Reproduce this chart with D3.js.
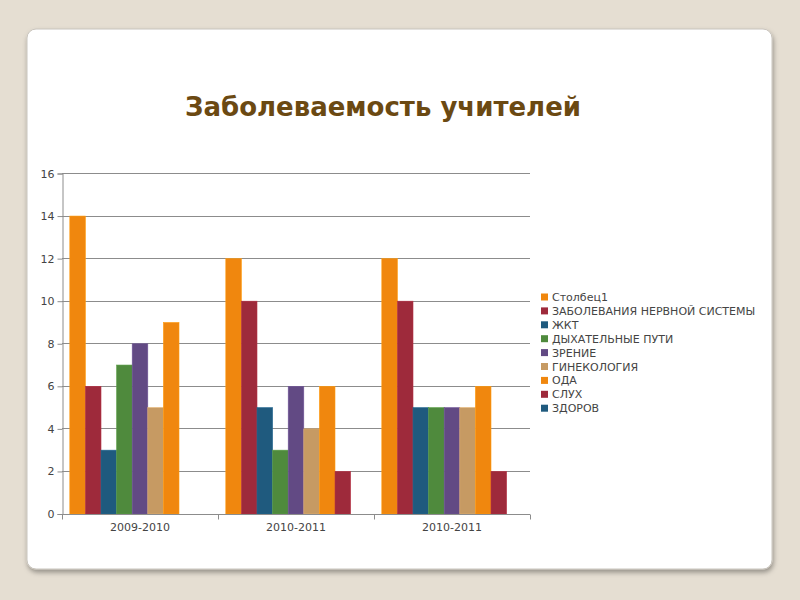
<!DOCTYPE html>
<html><head><meta charset="utf-8">
<script src="https://cdn.jsdelivr.net/npm/d3@7/dist/d3.min.js"></script>
<style>body{margin:0;background:#e5ded2;}svg{display:block;}</style>
</head><body>
<svg id="c" width="800" height="600"></svg>
<script>
const categories = ["2009-2010", "2010-2011", "2010-2011"];
const seriesNames = ["Столбец1", "ЗАБОЛЕВАНИЯ НЕРВНОЙ СИСТЕМЫ", "ЖКТ", "ДЫХАТЕЛЬНЫЕ ПУТИ", "ЗРЕНИЕ", "ГИНЕКОЛОГИЯ", "ОДА", "СЛУХ", "ЗДОРОВ"];
const seriesColors = ["#f0870e", "#9e2a3b", "#1f5a7e", "#4f8a3d", "#624a84", "#c69a63", "#f0870e", "#9e2a3b", "#1f5a7e"];
const values = [
  [14, 6, 3, 7, 8, 5, 9, 0, 0],
  [12, 10, 5, 3, 6, 4, 6, 2, 0],
  [12, 10, 5, 5, 5, 5, 6, 2, 0]
];
const yTicks = [0, 2, 4, 6, 8, 10, 12, 14, 16];

const svg = d3.select("#c");
const defs = svg.append("defs");
const f = defs.append("filter").attr("id","sh").attr("x","-5%").attr("y","-5%").attr("width","110%").attr("height","112%");
f.append("feDropShadow").attr("dx",1).attr("dy",3).attr("stdDeviation",2.5).attr("flood-color","#000").attr("flood-opacity",0.35);

svg.append("rect").attr("x",27).attr("y",29).attr("width",745).attr("height",540).attr("rx",9)
  .attr("fill","#fff").attr("stroke","#c8c4bd").attr("stroke-width",1).attr("filter","url(#sh)");

svg.append("text").attr("x",383).attr("y",116).attr("text-anchor","middle")
  .attr("font-family","DejaVu Sans").attr("font-weight","bold").attr("font-size",26)
  .attr("fill","#6b4912").text("Заболеваемость учителей");

const x0 = d3.scaleBand().domain(d3.range(categories.length)).range([62, 530]).padding(0);
const x1 = d3.scaleBand().domain(d3.range(seriesNames.length)).range([0, x0.bandwidth()]).paddingInner(0).paddingOuter(0.5);
const y = d3.scaleLinear().domain([0, 16]).range([514, 173.5]);

const g = svg.append("g");
g.selectAll("line.grid").data(yTicks.filter(t=>t>0)).join("line")
  .attr("x1",62).attr("x2",530).attr("y1",d=>y(d)).attr("y2",d=>y(d))
  .attr("stroke","#8c8c8c").attr("stroke-width",1).attr("shape-rendering","crispEdges");

const groups = g.selectAll("g.cat").data(values).join("g").attr("transform",(d,i)=>`translate(${x0(i)},0)`);
groups.selectAll("rect").data(d=>d.map((v,j)=>({v,j}))).join("rect")
  .filter(d=>d.v>0)
  .attr("x",d=>x1(d.j)).attr("width",x1.bandwidth())
  .attr("y",d=>y(d.v)).attr("height",d=>y(0)-y(d.v))
  .attr("fill",d=>seriesColors[d.j])
  .attr("stroke",d=>d3.color(seriesColors[d.j]).brighter(0.4)).attr("stroke-width",0.6);

const yAxis = d3.axisLeft(y).tickValues(yTicks).tickSize(5).tickPadding(3).tickFormat(d3.format("d"));
const ya = svg.append("g").attr("transform","translate(62.5,0)").call(yAxis);
ya.select(".domain").attr("stroke","#8c8c8c");
ya.selectAll(".tick line").attr("stroke","#8c8c8c");
ya.selectAll("text").attr("font-family","DejaVu Sans").attr("font-size",11).attr("fill","#444");

const xa = svg.append("g").attr("transform","translate(0,514.5)");
xa.append("line").attr("x1",62).attr("x2",530).attr("stroke","#8c8c8c");
xa.selectAll("line.t").data(d3.range(categories.length+1)).join("line")
  .attr("x1",i=>62+i*x0.bandwidth()+0.5).attr("x2",i=>62+i*x0.bandwidth()+0.5).attr("y1",0).attr("y2",5)
  .attr("stroke","#8c8c8c");
xa.selectAll("text").data(categories).join("text")
  .attr("x",(d,i)=>x0(i)+x0.bandwidth()/2).attr("y",16).attr("text-anchor","middle")
  .attr("font-family","DejaVu Sans").attr("font-size",11).attr("fill","#444").text(d=>d);

const lg = svg.append("g").attr("transform","translate(541,297)");
const items = lg.selectAll("g").data(seriesNames).join("g").attr("transform",(d,i)=>`translate(0,${i*13.9})`);
items.append("rect").attr("x",0).attr("y",-3.5).attr("width",7).attr("height",7).attr("fill",(d,i)=>seriesColors[i]);
items.append("text").attr("x",11).attr("y",4).attr("font-family","DejaVu Sans").attr("font-size",11)
  .attr("fill","#444").text(d=>d);
</script>
</body></html>
